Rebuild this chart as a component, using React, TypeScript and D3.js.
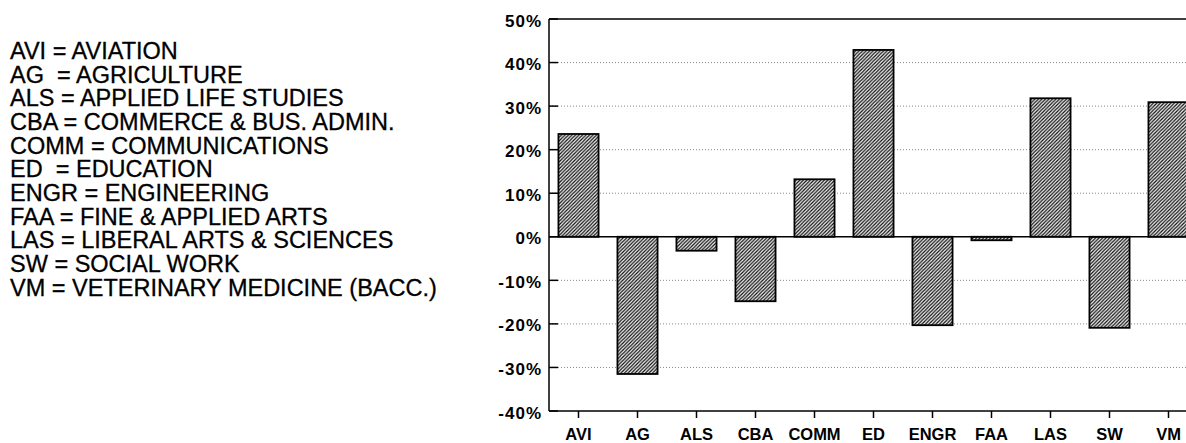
import React from "react";
import * as d3 from "d3";

const categories = ["AVI", "AG", "ALS", "CBA", "COMM", "ED", "ENGR", "FAA", "LAS", "SW", "VM"];
const changePct = [23.6, -31.5, -3.2, -14.8, 13.2, 42.9, -20.3, -0.8, 31.8, -20.9, 30.9];
const yTicks = [50, 40, 30, 20, 10, 0, -10, -20, -30, -40];
const gridValues = [40, 30, 20, 10, -10, -20, -30];
const legendLines = [
  "AVI = AVIATION",
  "AG  = AGRICULTURE",
  "ALS = APPLIED LIFE STUDIES",
  "CBA = COMMERCE & BUS. ADMIN.",
  "COMM = COMMUNICATIONS",
  "ED  = EDUCATION",
  "ENGR = ENGINEERING",
  "FAA = FINE & APPLIED ARTS",
  "LAS = LIBERAL ARTS & SCIENCES",
  "SW = SOCIAL WORK",
  "VM = VETERINARY MEDICINE (BACC.)",
];

const W = 1186;
const H = 443;
const plotLeft = 549;
const plotRight = 1198;
const plotTop = 19;
const plotBottom = 411;

export default function App() {
  const x = d3
    .scaleBand<string>()
    .domain(categories)
    .range([plotLeft, plotRight])
    .paddingInner(0.32)
    .paddingOuter(0.16);
  const y = d3.scaleLinear().domain([-40, 50]).range([plotBottom, plotTop]);
  const fmt = (v: number) => `${v}%`;
  const font = "'Liberation Sans', Arial, Helvetica, sans-serif";

  return (
    <svg
      width={W}
      height={H}
      viewBox={`0 0 ${W} ${H}`}
      style={{ position: "absolute", left: 0, top: 0, background: "#fff" }}
    >
      <defs>
        <pattern id="hatch" patternUnits="userSpaceOnUse" width={3.5} height={3.5}>
          <rect width={3.5} height={3.5} fill="#fff" />
          <path d="M0,3.5 L3.5,0 M-1,1 L1,-1 M2.5,4.5 L4.5,2.5" stroke="#111" strokeWidth={1.3} />
        </pattern>
      </defs>

      {/* legend text */}
      <g fontFamily={font} fontSize={23.5} fill="#000" stroke="#000" strokeWidth={0.3}>
        {legendLines.map((t, i) => (
          <text
            key={i}
            x={10}
            y={51 + i * 23.65}
            dominantBaseline="central"
            xmlSpace="preserve"
            style={{ whiteSpace: "pre" }}
          >
            {t}
          </text>
        ))}
      </g>

      {/* gridlines */}
      <g>
        {gridValues.map((v) => (
          <line
            key={v}
            x1={plotLeft}
            x2={W}
            y1={y(v)}
            y2={y(v)}
            stroke="#888"
            strokeWidth={1}
            strokeDasharray="1 2"
          />
        ))}
      </g>

      {/* bars */}
      <g>
        {categories.map((c, i) => {
          const v = changePct[i];
          const y0 = y(0);
          const y1 = y(v);
          return (
            <rect
              key={c}
              x={x(c)}
              y={Math.min(y0, y1)}
              width={x.bandwidth()}
              height={Math.abs(y1 - y0)}
              fill="url(#hatch)"
              stroke="#000"
              strokeWidth={1.8}
            />
          );
        })}
      </g>

      {/* frame lines */}
      <line x1={plotLeft} x2={W} y1={plotTop} y2={plotTop} stroke="#000" strokeWidth={1.5} />
      <line x1={plotLeft} x2={W} y1={y(0)} y2={y(0)} stroke="#000" strokeWidth={1.5} />
      <line x1={plotLeft} x2={W} y1={plotBottom} y2={plotBottom} stroke="#000" strokeWidth={1.5} />
      <line x1={plotLeft} x2={plotLeft} y1={plotTop} y2={plotBottom} stroke="#000" strokeWidth={1.5} />

      {/* y ticks and labels */}
      <g fontFamily={font} fontSize={17} fontWeight="bold" fill="#000">
        {yTicks.map((v) => (
          <g key={v}>
            <line x1={plotLeft} x2={plotLeft + 9} y1={y(v)} y2={y(v)} stroke="#000" strokeWidth={1.5} />
            <text x={542} y={y(v) + 2} textAnchor="end" dominantBaseline="central" letterSpacing={1}>
              {fmt(v)}
            </text>
          </g>
        ))}
      </g>

      {/* x ticks and labels */}
      <g fontFamily={font} fontSize={16.5} fontWeight="bold" fill="#000">
        {categories.map((c) => {
          const cx = (x(c) as number) + x.bandwidth() / 2;
          return (
            <g key={c}>
              <line x1={cx} x2={cx} y1={plotBottom} y2={plotBottom + 7} stroke="#000" strokeWidth={1.5} />
              <text x={cx} y={434} textAnchor="middle" dominantBaseline="central">
                {c}
              </text>
            </g>
          );
        })}
      </g>
    </svg>
  );
}
